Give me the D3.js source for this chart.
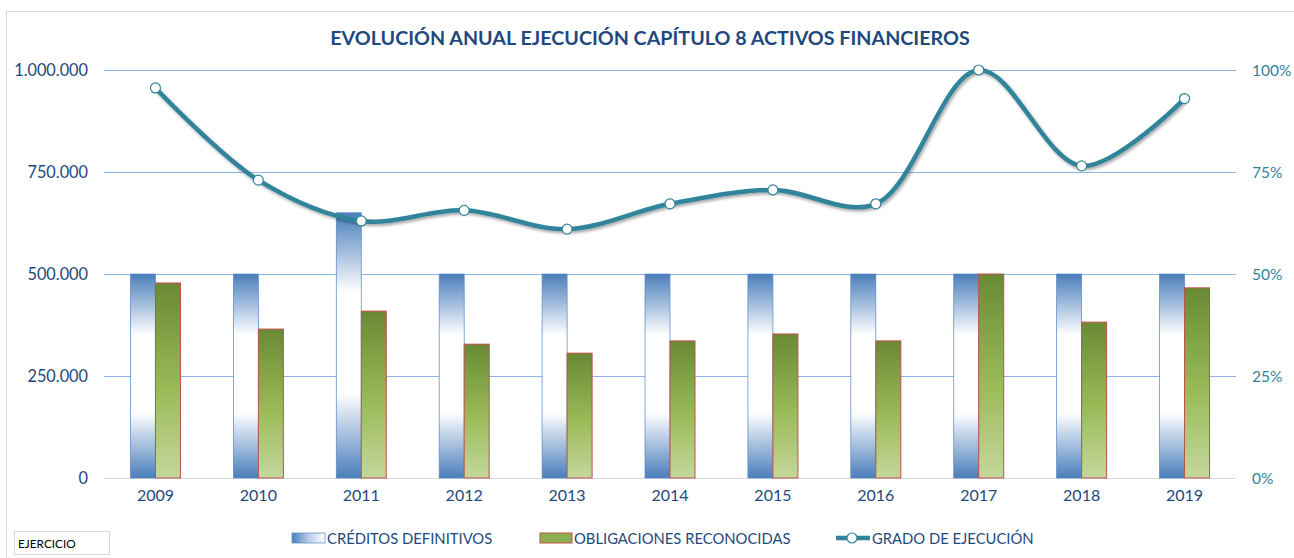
<!DOCTYPE html>
<html>
<head>
<meta charset="utf-8">
<script src="https://cdn.jsdelivr.net/npm/d3@7"></script>
<style>
  body { margin: 0; background: #fff; }
  svg { display: block; font-family: Lato, "Open Sans", sans-serif; }
</style>
</head>
<body>
<div id="chart"></div>
<script>
// datos
const years = ["2009", "2010", "2011", "2012", "2013", "2014", "2015", "2016", "2017", "2018", "2019"];
const creditos = [500000, 500000, 650000, 500000, 500000, 500000, 500000, 500000, 500000, 500000, 500000];
const obligaciones = [478000, 365000, 409000, 328000, 306000, 336000, 353000, 336000, 500000, 382000, 466000];
const grado = [0.956, 0.73, 0.63, 0.656, 0.61, 0.672, 0.706, 0.672, 1.0, 0.765, 0.93];
const leftTicks = [0, 250000, 500000, 750000, 1000000];
const rightTicks = [0, 0.25, 0.5, 0.75, 1];

const W = 1294, H = 558;
const m = { left: 104, right: 1236, top: 70, bottom: 478 };
const navy = "#1F497D", teal = "#31849B";

const svg = d3.select("#chart").append("svg")
    .attr("width", W).attr("height", H);

const defs = svg.append("defs");
const gBlue = defs.append("linearGradient").attr("id", "gBlue")
    .attr("x1", 0).attr("y1", 0).attr("x2", 0).attr("y2", 1);
[[0, "#4A7EBB"], [0.3, "#FFFFFF"], [0.68, "#FFFFFF"], [1, "#4A7EBB"]].forEach(s =>
    gBlue.append("stop").attr("offset", s[0]).attr("stop-color", s[1]));
const gGreen = defs.append("linearGradient").attr("id", "gGreen")
    .attr("x1", 0).attr("y1", 0).attr("x2", 0).attr("y2", 1);
[[0, "#698A33"], [0.55, "#9BBB59"], [1, "#C4D79B"]].forEach(s =>
    gGreen.append("stop").attr("offset", s[0]).attr("stop-color", s[1]));
const gBlueH = defs.append("linearGradient").attr("id", "gBlueH")
    .attr("x1", 0).attr("y1", 0).attr("x2", 1).attr("y2", 0);
[[0, "#4A7EBB"], [0.5, "#B9CDE8"], [1, "#FFFFFF"]].forEach(s =>
    gBlueH.append("stop").attr("offset", s[0]).attr("stop-color", s[1]));
const sh = defs.append("filter").attr("id", "sh")
    .attr("x", "-5%").attr("y", "-20%").attr("width", "110%").attr("height", "140%");
sh.append("feDropShadow").attr("dx", 1.5).attr("dy", 2).attr("stdDeviation", 1.5)
    .attr("flood-color", "#000").attr("flood-opacity", 0.35);

// marco del gráfico
svg.append("rect").attr("x", 6.5).attr("y", 11.5).attr("width", 1400).attr("height", 700)
    .attr("fill", "none").attr("stroke", "#D9D9D9");

svg.append("text").attr("x", 650).attr("y", 45).attr("text-anchor", "middle")
    .attr("font-size", 19.7).attr("font-weight", "bold").attr("fill", navy)
    .text("EVOLUCIÓN ANUAL EJECUCIÓN CAPÍTULO 8 ACTIVOS FINANCIEROS");

const x = d3.scaleBand().domain(years).range([m.left, m.right]);
const y = d3.scaleLinear().domain([0, 1000000]).range([m.bottom, m.top]);
const y2 = d3.scaleLinear().domain([0, 1]).range([m.bottom, m.top]);
const es = d3.formatLocale({ decimal: ",", thousands: ".", grouping: [3], currency: ["", "€"] });
const fmt = es.format(",.0f");

// rejilla
svg.append("g").selectAll("line").data(leftTicks.slice(1)).join("line")
    .attr("x1", m.left).attr("x2", m.right)
    .attr("y1", d => Math.round(y(d)) + 0.5).attr("y2", d => Math.round(y(d)) + 0.5)
    .attr("stroke", "#8EB4E3").attr("stroke-width", 1);
svg.append("line").attr("x1", m.left).attr("x2", m.right)
    .attr("y1", m.bottom + 0.5).attr("y2", m.bottom + 0.5)
    .attr("stroke", "#D9D9D9");

// ejes
const axL = svg.append("g").attr("transform", `translate(${m.left - 16},0)`)
    .call(d3.axisLeft(y).tickValues(leftTicks).tickFormat(fmt).tickSize(0).tickPadding(0));
axL.select(".domain").remove();
axL.selectAll("text").attr("font-size", 16.3).attr("fill", navy).attr("font-family", "Lato").attr("dy", "0.35em");

const axR = svg.append("g").attr("transform", `translate(${m.right + 16},0)`)
    .call(d3.axisRight(y2).tickValues(rightTicks).tickFormat(d3.format(".0%")).tickSize(0).tickPadding(0));
axR.select(".domain").remove();
axR.selectAll("text").attr("font-size", 15.5).attr("fill", teal).attr("font-family", "Lato").attr("dy", "0.35em");

const axB = svg.append("g").attr("transform", `translate(0,${m.bottom + 12})`)
    .call(d3.axisBottom(x).tickSize(0).tickPadding(0));
axB.select(".domain").remove();
axB.selectAll("text").attr("font-size", 16).attr("fill", navy).attr("font-family", "Lato").attr("dy", "0.71em");

// barras
const bw = 25;
svg.append("g").selectAll("rect").data(creditos).join("rect")
    .attr("x", (d, i) => x(years[i]) + x.bandwidth() / 2 - bw)
    .attr("y", d => y(d)).attr("width", bw).attr("height", d => m.bottom - y(d))
    .attr("fill", "url(#gBlue)").attr("stroke", "#5B8CC8").attr("stroke-width", 0.75);
svg.append("g").selectAll("rect").data(obligaciones).join("rect")
    .attr("x", (d, i) => x(years[i]) + x.bandwidth() / 2)
    .attr("y", d => y(d)).attr("width", bw).attr("height", d => m.bottom - y(d))
    .attr("fill", "url(#gGreen)").attr("stroke", "#C0504D").attr("stroke-width", 1);

// línea grado de ejecución
const cx = (d, i) => x(years[i]) + x.bandwidth() / 2;
const line = d3.line().x(cx).y(d => y2(d)).curve(d3.curveCatmullRom.alpha(0.5));
svg.append("path").datum(grado).attr("d", line)
    .attr("fill", "none").attr("stroke", teal).attr("stroke-width", 4.5)
    .attr("filter", "url(#sh)");
svg.append("g").selectAll("circle").data(grado).join("circle")
    .attr("cx", cx).attr("cy", d => y2(d)).attr("r", 5)
    .attr("fill", "#fff").attr("stroke", teal).attr("stroke-width", 1.2);

// leyenda
const lg = svg.append("g").attr("font-size", 14.8).attr("fill", navy);
lg.append("rect").attr("x", 292).attr("y", 533).attr("width", 33).attr("height", 10)
    .attr("fill", "url(#gBlueH)").attr("stroke", "#5B8CC8").attr("stroke-width", 0.75);
lg.append("text").attr("x", 327).attr("y", 543.5).attr("fill", navy).text("CRÉDITOS DEFINITIVOS");
lg.append("rect").attr("x", 540).attr("y", 533).attr("width", 32).attr("height", 10)
    .attr("fill", "#8DB04E").attr("stroke", "#C0504D").attr("stroke-width", 1);
lg.append("text").attr("x", 574).attr("y", 543.5).attr("fill", navy).text("OBLIGACIONES RECONOCIDAS");
lg.append("line").attr("x1", 836).attr("x2", 870).attr("y1", 538).attr("y2", 538)
    .attr("stroke", teal).attr("stroke-width", 4.5);
lg.append("circle").attr("cx", 852).attr("cy", 538).attr("r", 5)
    .attr("fill", "#fff").attr("stroke", teal).attr("stroke-width", 1.2);
lg.append("text").attr("x", 872).attr("y", 543.5).attr("fill", navy).text("GRADO DE EJECUCIÓN");

// casilla EJERCICIO
svg.append("rect").attr("x", 14.5).attr("y", 531.5).attr("width", 95).attr("height", 23)
    .attr("fill", "#fff").attr("stroke", "#D9D9D9");
svg.append("text").attr("x", 18).attr("y", 548).attr("font-size", 11.8).attr("fill", "#000")
    .text("EJERCICIO");
</script>
</body>
</html>
